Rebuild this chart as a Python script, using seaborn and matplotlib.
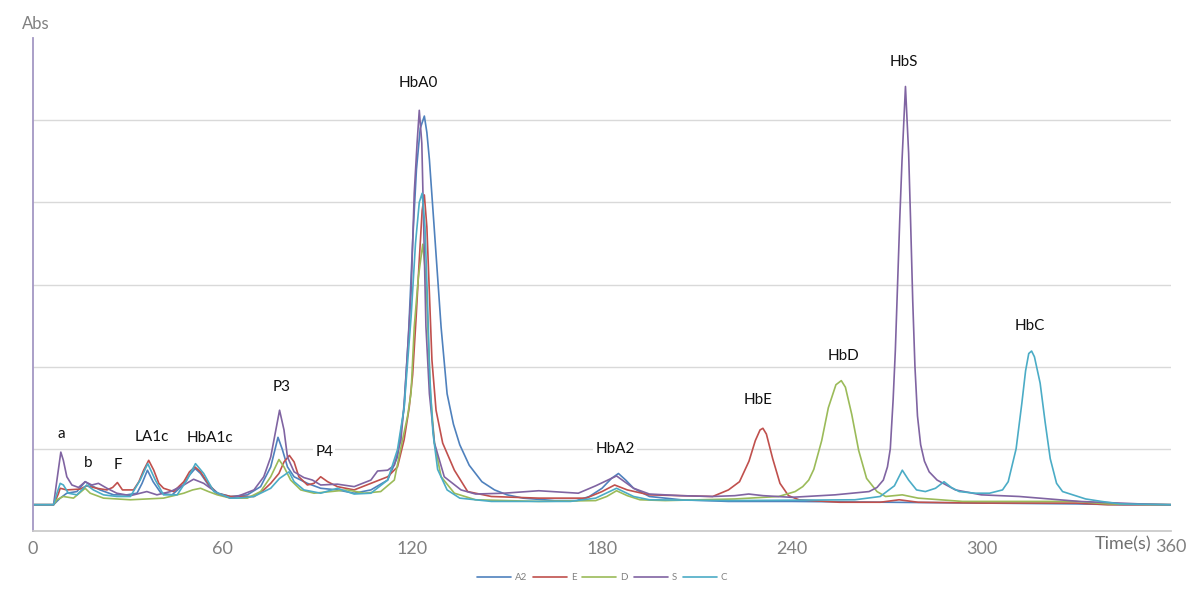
import pandas as pd
import seaborn as sns
from matplotlib import pyplot as plt

# retention time (s) / absorbance for each sample trace
a2_t = [0, 6.5, 8.6, 10.7, 13.9, 16.5, 18.1, 21.2, 25.5, 29.7, 32.9, 34.5, 36.2, 38, 40.5, 44, 47.5, 49.5, 51.3, 53,
        55.5, 58.5, 62.5, 67.8, 72, 75.2, 77.5, 78.9, 80.5, 82.6, 86.8, 91, 96.3, 101.6, 106.9, 112.2, 115.3, 117.4,
        118.8, 120.2, 121.3, 122.5, 123.8, 124.6, 125.4, 126.9, 129.1, 131, 133, 135, 138, 142, 146, 150, 155, 165,
        172, 176, 180, 183, 185.2, 187.5, 190, 195, 205, 220, 240, 270, 300, 330, 345, 360]
a2_y = [0.32, 0.32, 0.40, 0.46, 0.48, 0.60, 0.56, 0.50, 0.44, 0.44, 0.46, 0.58, 0.74, 0.60, 0.46, 0.44, 0.56, 0.68, 0.76, 0.70,
        0.56, 0.46, 0.42, 0.44, 0.54, 0.78, 1.14, 0.99, 0.78, 0.66, 0.58, 0.52, 0.50, 0.46, 0.50, 0.62, 0.90, 1.50,
        2.40, 3.60, 4.40, 4.90, 5.05, 4.85, 4.52, 3.70, 2.48, 1.67, 1.30, 1.05, 0.80, 0.60, 0.50, 0.44, 0.40, 0.37,
        0.37, 0.42, 0.52, 0.64, 0.70, 0.62, 0.52, 0.42, 0.38, 0.36, 0.36, 0.35, 0.34, 0.33, 0.32, 0.32]

e_t = [0, 6.5, 8.0, 8.6, 10.7, 14.9, 17, 20.2, 23.4, 25.2, 26.7, 28.3, 31.8, 33.5, 35, 36.6, 38.2, 39.8, 41.3, 44.5,
       47.7, 49.5, 51.2, 53, 55, 58, 62.5, 69.9, 73, 75.2, 77.8, 79.4, 81.1, 82.6, 84.1, 86.8, 88.9, 91, 93.2, 96.3,
       101.6, 106.9, 112.2, 115.3, 117.4, 119, 120.1, 121.2, 122.2, 123.1, 123.8, 124.6, 125.4, 126.2, 127.5, 129.6,
       133.3, 137.5, 145, 160, 175, 180, 184, 188, 195, 205, 215, 220, 223.5, 226.5, 228.5, 230, 230.9, 232, 234,
       236.3, 239, 242.3, 255, 268, 274, 280, 300, 330, 340, 360]
e_y = [0.32, 0.32, 0.45, 0.52, 0.50, 0.51, 0.55, 0.52, 0.50, 0.53, 0.59, 0.50, 0.50, 0.60, 0.74, 0.86, 0.74, 0.58, 0.52, 0.48,
       0.60, 0.72, 0.78, 0.72, 0.60, 0.46, 0.42, 0.42, 0.50, 0.58, 0.70, 0.84, 0.92, 0.84, 0.66, 0.56, 0.58, 0.66, 0.60, 0.54,
       0.50, 0.58, 0.66, 0.78, 1.11, 1.50, 1.90, 2.60, 3.30, 3.90, 4.09, 3.70, 2.89, 2.08, 1.47, 1.07,
       0.74, 0.48, 0.42, 0.40, 0.40, 0.48, 0.56, 0.50, 0.44, 0.43, 0.42, 0.50, 0.60, 0.85, 1.10, 1.23, 1.25, 1.18, 0.88,
       0.58, 0.43, 0.38, 0.35, 0.35, 0.38, 0.35, 0.34, 0.34, 0.32, 0.32]

d_t = [0, 6.5, 7.5, 9.6, 12.8, 16.5, 18.1, 22.3, 30.8, 41.3, 47.7, 50.5, 53, 55.5, 58.3, 62.5, 67.8, 72, 75.2, 77.8,
       79.4, 81.5, 84.7, 88.9, 94.2, 99.5, 104.8, 110, 114.3, 116.9, 118.5, 119.6, 120.6, 121.9, 123.3, 124.3, 124.9,
       125.7, 127, 129.1, 133.3, 140, 160, 178, 181.5, 184.6, 188, 192, 200, 222, 235.9, 241.1, 243.5, 245.4, 247,
       249.5, 251.6, 254, 255.7, 257, 259, 261.2, 263.7, 267, 269.7, 275, 280, 294, 330, 340, 360]
d_y = [0.32, 0.32, 0.38, 0.42, 0.40, 0.52, 0.46, 0.40, 0.38, 0.40, 0.46, 0.50, 0.52, 0.48, 0.44, 0.40, 0.40, 0.48, 0.66, 0.87,
       0.78, 0.62, 0.50, 0.46, 0.48, 0.50, 0.46, 0.48, 0.62, 1.11, 1.40, 1.68, 2.48, 3.09, 3.49, 3.09, 2.48,
       1.68, 1.07, 0.66, 0.46, 0.38, 0.36, 0.37, 0.42, 0.49, 0.43, 0.38, 0.37, 0.39, 0.42, 0.48, 0.54, 0.62, 0.75,
       1.10, 1.50, 1.78, 1.83, 1.75, 1.42, 0.98, 0.64, 0.48, 0.42, 0.44, 0.40, 0.36, 0.36, 0.33, 0.32]

s_t = [0, 6.5, 7.5, 8.8, 9.6, 10.7, 12.3, 14.4, 16.5, 18.6, 20.7, 23.4, 26.5, 30.8, 36, 39.2, 43.5, 47.7, 50.8, 54,
       58.3, 62.5, 64.6, 69.9, 73, 75.2, 78, 79.4, 80.5, 82.6, 85.7, 88.4, 91, 96.3, 101.6, 106.9, 109, 112.2, 114.3,
       116.4, 117.4, 118.5, 119.6, 120.6, 121.5, 122.2, 123, 123.6, 124.3, 125.4, 127, 130.1, 135.4, 140, 149, 160,
       172.5, 178, 184.6, 190, 195, 205, 215, 222, 226.4, 231, 240, 253.7, 264.5, 267, 269, 270.3, 271.2, 272.1,
       272.8, 273.5, 274.2, 274.9, 275.5, 276, 277, 277.6, 278.3, 279, 279.8, 280.8, 282, 283.5, 286, 291.8, 300,
       312, 331, 350, 360]
s_y = [0.32, 0.32, 0.60, 0.96, 0.86, 0.66, 0.56, 0.53, 0.60, 0.56, 0.58, 0.52, 0.46, 0.43, 0.48, 0.44, 0.48, 0.56, 0.63, 0.58,
       0.46, 0.40, 0.42, 0.50, 0.66, 0.90, 1.47, 1.23, 0.90, 0.72, 0.65, 0.62, 0.56, 0.57, 0.54, 0.62, 0.73, 0.74, 0.80,
       1.11, 1.55, 2.20, 2.89, 4.11, 4.72, 5.12, 4.72, 3.70, 2.49, 1.67, 1.07, 0.66, 0.50, 0.45, 0.46, 0.49,
       0.46, 0.55, 0.67, 0.52, 0.45, 0.43, 0.42, 0.43, 0.45, 0.43, 0.41, 0.44, 0.48, 0.53, 0.62, 0.78, 1.00, 1.60,
       2.20, 3.00, 3.80, 4.50, 5.00, 5.41, 4.60, 3.80, 2.80, 2.00, 1.40, 1.05, 0.85, 0.72, 0.62, 0.50, 0.44,
       0.42, 0.36, 0.33, 0.32]

c_t = [0, 6.5, 7.5, 8.6, 9.6, 11.2, 13.9, 17, 19.1, 22.3, 26.5, 30.8, 33.9, 36.3, 38.7, 41.3, 45.6, 48.7, 51.4, 54,
       57.2, 62.5, 64.6, 69.9, 75.2, 78, 81, 82.6, 85.7, 91, 96.3, 101.6, 106.9, 112.2, 115.3, 117.4, 119.6, 121,
       122.2, 123.1, 124, 124.8, 125.5, 126.5, 128, 131, 135, 145, 170, 178, 184.6, 190, 195, 220, 260, 268, 272.5,
       275, 277, 279.5, 282.3, 285.5, 288.2, 290.5, 293, 298, 302.6, 306.7, 308.5, 311, 312.8, 314, 315, 315.9,
       316.8, 318.6, 320.2, 321.8, 323.8, 325.7, 333, 338, 343.8, 360]
c_y = [0.32, 0.32, 0.45, 0.58, 0.56, 0.46, 0.44, 0.56, 0.50, 0.44, 0.42, 0.42, 0.62, 0.82, 0.62, 0.44, 0.44, 0.62, 0.82, 0.70,
       0.48, 0.40, 0.40, 0.42, 0.52, 0.64, 0.72, 0.60, 0.50, 0.46, 0.52, 0.45, 0.46, 0.62, 0.99, 1.50, 2.60, 3.50,
       4.00, 4.11, 3.70, 2.80, 1.90, 1.20, 0.75, 0.50, 0.40, 0.36, 0.36, 0.40, 0.52, 0.42, 0.38, 0.37, 0.38, 0.42, 0.55,
       0.74, 0.62, 0.50, 0.48, 0.52, 0.60, 0.53, 0.48, 0.46, 0.46, 0.50, 0.60, 1.00, 1.55, 1.95, 2.16, 2.19,
       2.12, 1.80, 1.32, 0.88, 0.58, 0.48, 0.39, 0.36, 0.33, 0.32]

series_names = ['A2', 'E', 'D', 'S', 'C']
series_colors = ['#4F81BD', '#C0504D', '#9BBB59', '#8064A2', '#4BACC6']

# peak annotations
peak_names = ['a', 'b', 'F', 'LA1c', 'HbA1c', 'P3', 'P4', 'HbA0', 'HbA2', 'HbE', 'HbD', 'HbS', 'HbC']
peak_t = [8.9, 17.4, 26.9, 37.6, 56.0, 78.8, 92.1, 121.8, 184.1, 229.4, 256.3, 275.5, 315.4]
peak_y = [1.18, 0.83, 0.80, 1.14, 1.13, 1.75, 0.96, 5.45, 1.00, 1.59, 2.13, 5.71, 2.49]

frames = []
for name, t, y in zip(series_names, [a2_t, e_t, d_t, s_t, c_t], [a2_y, e_y, d_y, s_y, c_y]):
    frames.append(pd.DataFrame({'Time': t, 'Abs': y, 'Sample': name}))
df = pd.concat(frames, ignore_index=True)

sns.set_theme(style='white')
plt.rcParams['font.family'] = ['Lato', 'DejaVu Sans']

fig = plt.figure(figsize=(11.87, 5.91), dpi=100)
ax = fig.add_axes([33 / 1187, 1 - 531 / 591, (1171 - 33) / 1187, 493 / 591])

sns.lineplot(data=df, x='Time', y='Abs', hue='Sample', hue_order=series_names,
             palette=series_colors, estimator=None, sort=False, linewidth=1.2, ax=ax)

ax.set_xlim(0, 360)
ax.set_ylim(0, 6)
ax.set_xticks(range(0, 361, 60))
ax.set_xticklabels(['0', '60', '120', '180', '240', '300', ''], fontsize=13, color='#808080')
ax.set_yticks([1, 2, 3, 4, 5])
ax.set_yticklabels([])
ax.tick_params(axis='y', length=0)
ax.tick_params(axis='x', direction='in', length=5, color='#bfbfbf', pad=7)
ax.grid(axis='y', color='#d9d9d9', linewidth=1)
ax.set_axisbelow(True)
ax.set_xlabel('')
ax.set_ylabel('')
for side in ['top', 'right']:
    ax.spines[side].set_visible(False)
ax.spines['bottom'].set_color('#c8c8c8')
ax.spines['left'].set_color('#a497c4')
ax.spines['left'].set_linewidth(1.3)

for name, t, y in zip(peak_names, peak_t, peak_y):
    ax.text(t, y, name, ha='center', va='center', fontsize=11, color='#111111',
            bbox=dict(facecolor='white', edgecolor='none', pad=1.5))

fig.text(36 / 1187, 1 - 24 / 591, 'Abs', ha='center', va='center', fontsize=12, color='#808080')
fig.text(1123 / 1187, 1 - 544 / 591, 'Time(s)', ha='center', va='center', fontsize=13, color='#707070')
fig.text(1171 / 1187, 1 - 547 / 591, '360', ha='center', va='center', fontsize=13, color='#808080')

sns.move_legend(ax, 'center', bbox_to_anchor=(0.5, -0.095), ncol=5, frameon=False, title=None,
                fontsize=7, handlelength=3.5, columnspacing=0.6, handletextpad=0.4, labelcolor='#808080')

plt.savefig('out.png', dpi=100)
